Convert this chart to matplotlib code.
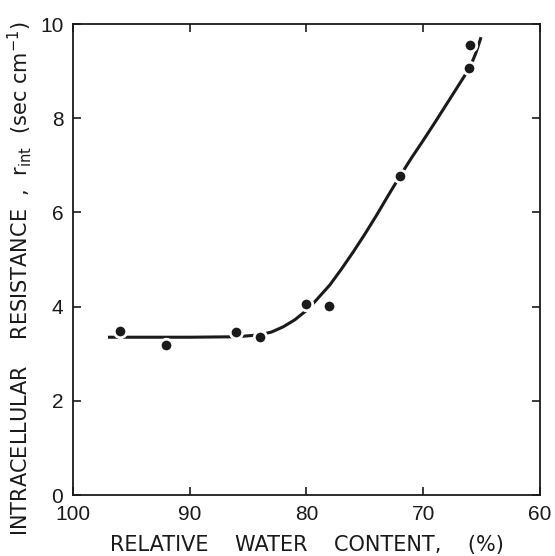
import matplotlib
matplotlib.use("Agg")
import matplotlib.pyplot as plt

plt.rcParams['font.family'] = ['Liberation Sans', 'DejaVu Sans']

# Measured points
rwc = [96.0, 92.0, 86.0, 84.0, 80.0, 78.1, 72.0, 66.1, 66.0]
rint = [3.48, 3.18, 3.46, 3.35, 4.06, 4.01, 6.77, 9.07, 9.55]

# Hand-drawn fitted curve
curve_x = [97, 94, 90, 86, 84, 83, 82, 81, 80, 79.3, 78, 77, 76, 75, 74, 73, 72,
           71, 70, 69, 68, 67, 66, 65.5, 65.05]
curve_y = [3.35, 3.35, 3.35, 3.36, 3.40, 3.46, 3.57, 3.72, 3.92, 4.1, 4.46, 4.8,
           5.16, 5.54, 5.94, 6.36, 6.77, 7.16, 7.53, 7.91, 8.3, 8.69, 9.08, 9.38, 9.72]

xticks = [100, 90, 80, 70, 60]
yticks = [0, 2, 4, 6, 8, 10]

ink = '#1a1a1a'
fig = plt.figure(figsize=(5.55, 5.56), dpi=100)
ax = fig.add_axes([0.1315, 0.1097, 0.973 - 0.1315, 0.9568 - 0.1097])

ax.plot(curve_x, curve_y, color=ink, lw=2.2, zorder=2, solid_capstyle='butt')
ax.plot(rwc, rint, 'o', color=ink, markersize=9, markeredgecolor='white',
        markeredgewidth=2.0, zorder=3)

ax.set_xlim(100, 60)
ax.set_ylim(0, 10)
ax.set_xticks(xticks)
ax.set_yticks(yticks)
ax.tick_params(direction='in', length=6, width=1.2, colors=ink, labelsize=15,
               top=True, right=True, pad=7)
for s in ax.spines.values():
    s.set_linewidth(1.3)
    s.set_color(ink)

ax.set_xlabel('RELATIVE    WATER    CONTENT,    (%)', fontsize=15, color=ink,
              labelpad=8, family=['DejaVu Sans'])
ax.set_ylabel('INTRACELLULAR    RESISTANCE  ,  r$_{\\mathrm{int}}$  (sec cm$^{-1}$)',
              fontsize=15, color=ink, labelpad=4, family=['DejaVu Sans'])
ax.yaxis.label.set_y(0.46)

fig.savefig('out.png', dpi=100)
